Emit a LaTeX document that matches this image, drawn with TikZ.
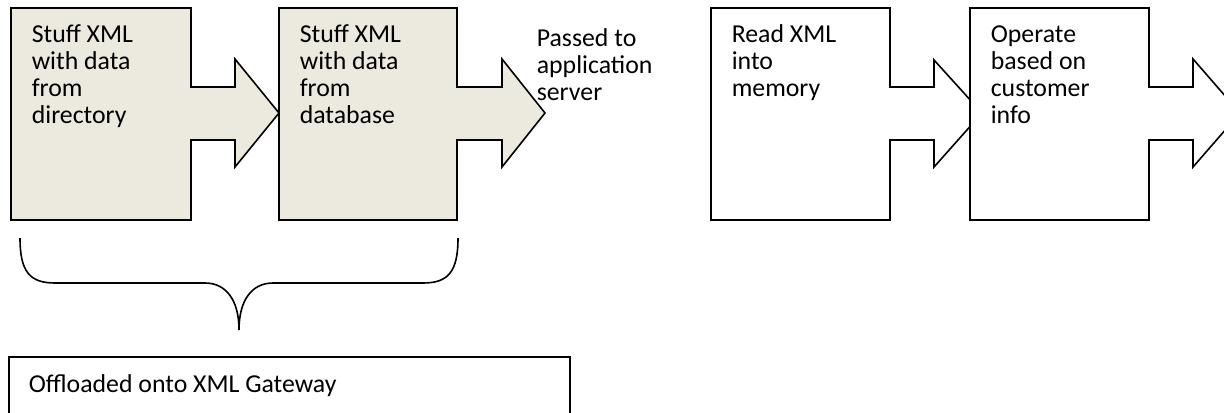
\documentclass[tikz,border=0pt]{standalone}
\usepackage{fontspec}
\setmainfont{Carlito}
\definecolor{beige}{RGB}{236,233,222}
\begin{document}
\begin{tikzpicture}[x=0.5pt,y=-0.5pt,line width=0.8pt,line join=miter,
  shapebeige/.style={draw=black,fill=beige},
  shapewhite/.style={draw=black,fill=white},
  lbl/.style={anchor=base west,inner sep=0pt,align=left,font=\fontsize{12.9}{13.5}\selectfont}]
\useasboundingbox (0,0) rectangle (1224,412);
\clip (0,0) rectangle (1224,412);
% arrow boxes
\path[shapebeige] (11,8) -- (191,8) -- (191,87) -- (235,87) -- (235,59) -- (279,113) -- (235,167) -- (235,140) -- (191,140) -- (191,220) -- (11,220) -- cycle;
\path[shapebeige] (279,8) -- (457,8) -- (457,87) -- (502,87) -- (502,59) -- (545,113) -- (502,167) -- (502,140) -- (457,140) -- (457,220) -- (279,220) -- cycle;
\path[shapewhite] (711,8) -- (890,8) -- (890,87) -- (934,87) -- (934,60) -- (982,113) -- (934,167) -- (934,140) -- (890,140) -- (890,220) -- (711,220) -- cycle;
\path[shapewhite] (970,8) -- (1149,8) -- (1149,87) -- (1193,87) -- (1193,59) -- (1240,113) -- (1193,167) -- (1193,140) -- (1149,140) -- (1149,220) -- (970,220) -- cycle;
% texts (anchored at the baseline of their last line)
\node[lbl] (t1) at (31,123) {Stuff XML\\with data\\from\\directory};
\node[lbl] (t2) at (299,123) {Stuff XML\\with data\\from\\database};
\node[lbl] (t3) at (536,100) {Passed to\\application\\server};
\node[lbl] (t4) at (731,96) {Read XML\\into\\memory};
\node[lbl] (t5) at (990,123) {Operate\\based on\\customer\\info};
% brace
\draw (20,238) .. controls (20,272) and (30,283) .. (55,283) -- (205,283)
  .. controls (226,283) and (239,300) .. (239,330)
  .. controls (239,300) and (252,283) .. (273,283) -- (423,283)
  .. controls (448,283) and (458,272) .. (458,238);
% bottom box
\draw (9,357) rectangle (570,440);
\node[lbl] (t6) at (28,392) {Offloaded onto XML Gateway};
\end{tikzpicture}
\end{document}
